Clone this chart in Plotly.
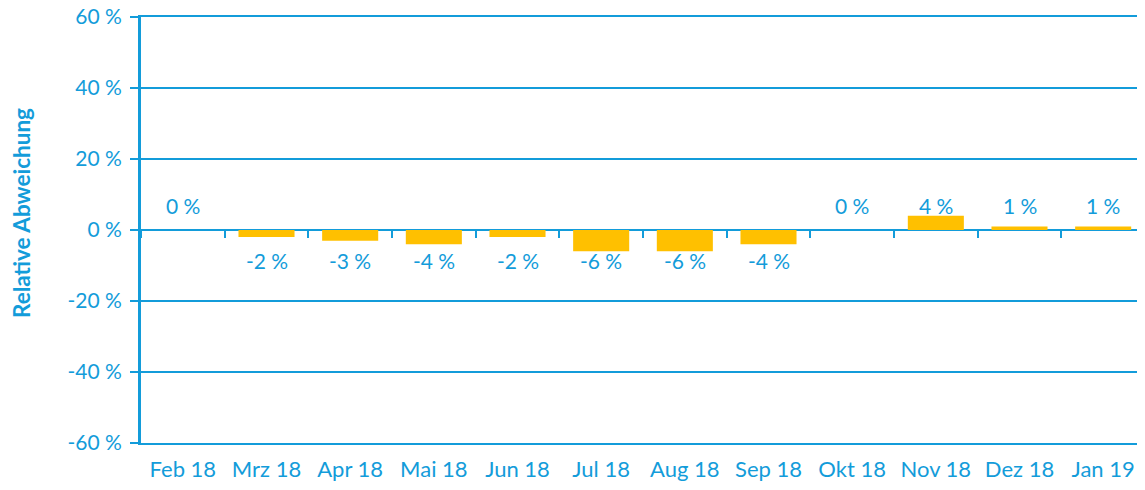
import plotly.graph_objects as go

months = ["Feb 18", "Mrz 18", "Apr 18", "Mai 18", "Jun 18", "Jul 18",
          "Aug 18", "Sep 18", "Okt 18", "Nov 18", "Dez 18", "Jan 19"]
values = [0, -2, -3, -4, -2, -6, -6, -4, 0, 4, 1, 1]
y_ticks = [-60, -40, -20, 0, 20, 40, 60]
y_tick_labels = [f"{t} %" for t in y_ticks]
y_title = "Relative Abweichung"

BLUE = "#139CDA"
GOLD = "#FFC000"
FONT = "Lato"
FS = 21

fig = go.Figure()
fig.add_trace(go.Bar(x=months, y=values, marker=dict(color=GOLD, line=dict(width=0)),
                     width=0.67, hoverinfo="skip", showlegend=False))
# invisible trace for the tick marks at the zero line
fig.add_trace(go.Scatter(x=months, y=values, xaxis="x2", mode="markers",
                         marker=dict(opacity=0), hoverinfo="skip", showlegend=False))

for m, v in zip(months, values):
    fig.add_annotation(x=m, y=(7 if v >= 0 else -8.5), text=f"{v} %",
                       showarrow=False, font=dict(family=FONT, size=FS, color=BLUE))

fig.add_annotation(xref="paper", yref="paper", x=0, y=0.54, xanchor="center",
                   yanchor="middle", xshift=-119, textangle=-90, showarrow=False,
                   text=f"<b>{y_title}</b>",
                   font=dict(family=FONT, size=22.5, color=BLUE))

fig.update_layout(
    width=1145, height=490,
    margin=dict(l=133, r=8, t=9, b=55),
    plot_bgcolor="white", paper_bgcolor="white",
    font=dict(family=FONT, size=FS, color=BLUE),
    xaxis=dict(type="category", showgrid=False, showline=True, mirror=True,
               linecolor=BLUE, linewidth=2, ticks="",
               automargin=False, ticklabelstandoff=6,
               tickfont=dict(family=FONT, size=22, color=BLUE), range=[-0.5, 11.5]),
    xaxis2=dict(type="category", overlaying="x", anchor="free", position=0.5,
                side="bottom", showgrid=False, showline=False, ticks="outside",
                automargin=False,
                tickson="boundaries", ticklen=7, tickwidth=2, tickcolor=BLUE,
                showticklabels=False, range=[-0.5, 11.5]),
    yaxis=dict(range=[-60, 60], tickvals=y_ticks, ticktext=y_tick_labels,
               automargin=False, ticklabeloverflow="allow",
               showgrid=True, gridcolor=BLUE, gridwidth=2, zeroline=True,
               zerolinecolor=BLUE, zerolinewidth=2,
               showline=True, linecolor=BLUE, linewidth=3,
               ticks="outside", ticklen=8, tickwidth=2, tickcolor=BLUE,
               ticklabelstandoff=4,
               tickfont=dict(family=FONT, size=FS, color=BLUE)),
    bargap=0.33,
)

fig.write_html("out.html")
